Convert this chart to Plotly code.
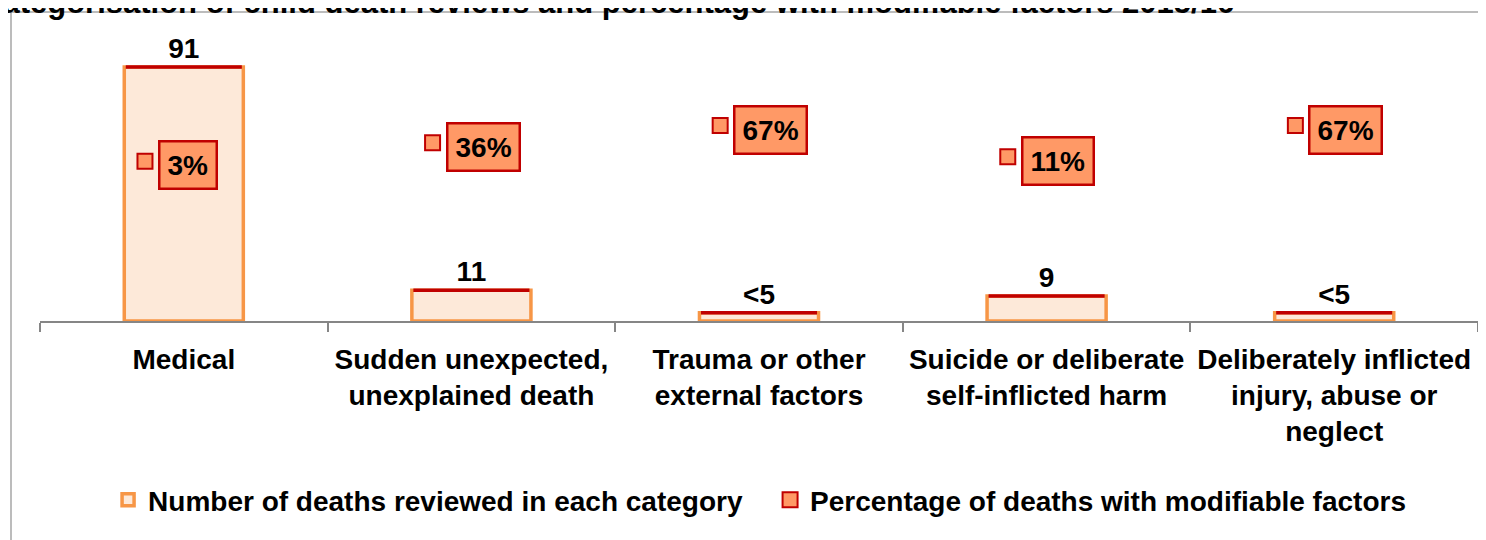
import plotly.graph_objects as go

# ---- data ----
category_labels = [
    "Medical",
    "Sudden unexpected,<br>unexplained death",
    "Trauma or other<br>external factors",
    "Suicide or deliberate<br>self-inflicted harm",
    "Deliberately inflicted<br>injury, abuse or<br>neglect",
]
deaths_reviewed = [91, 11, 3, 9, 3]
deaths_labels = ["91", "11", "<5", "9", "<5"]
pct_modifiable = [3, 36, 67, 11, 67]
pct_labels = ["3%", "36%", "67%", "11%", "67%"]
title_text = "Categorisation of child death reviews and percentage with modifiable factors 2015/16"
series_names = ["Number of deaths reviewed in each category",
                "Percentage of deaths with modifiable factors"]

# ---- layout geometry ----
# the page body adds an 8px offset, so margins are given in figure coords
W, H = 1486, 540
OFF = 8
PLOT_L, PLOT_R, PLOT_T, PLOT_B = 40, 1478, 42, 321   # page pixels
ML = PLOT_L - OFF
MT = PLOT_T - OFF
MR = W - (PLOT_R - OFF)
MB = H - (PLOT_B - OFF)
PW = PLOT_R - PLOT_L
PH = PLOT_B - PLOT_T
def px_x(p):
    return (p - PLOT_L) / PW
def px_y(p):
    return (PLOT_B - p) / PH

FONT = "Liberation Sans, Arial, sans-serif"
BAR_FILL = "#FDE9D9"
BAR_EDGE = "#F79646"
RED = "#C00000"
PCT_FILL = "#FF9966"
AXIS_GREY = "#868686"

bar_frac = 0.414
bar_px = bar_frac * PW / len(category_labels)
marker_offset = -0.135

fig = go.Figure()

fig.add_trace(go.Bar(
    x=category_labels, y=deaths_reviewed,
    name=series_names[0],
    marker=dict(color=BAR_FILL, line=dict(color=BAR_EDGE, width=3.5)),
    text=deaths_labels, textposition="outside",
    textfont=dict(family=FONT, size=28, color="black", weight="bold"),
    constraintext="none", cliponaxis=False,
))

# red line along the top edge of each bar
fig.add_trace(go.Scatter(
    x=category_labels, y=deaths_reviewed, mode="markers",
    marker=dict(symbol="line-ew", size=(bar_px - 3) / 1.4,
                line=dict(color=RED, width=3.5)),
    showlegend=False, hoverinfo="skip", cliponaxis=False,
))

pct_x = [i + marker_offset for i in range(len(pct_modifiable))]
fig.add_trace(go.Scatter(
    x=pct_x, y=pct_modifiable, mode="markers",
    xaxis="x2", yaxis="y2",
    name=series_names[1],
    marker=dict(symbol="square", size=15, color=PCT_FILL,
                line=dict(color=RED, width=2)),
    cliponaxis=False,
))

annotations = []
for xv, yv, lab in zip(pct_x, pct_modifiable, pct_labels):
    annotations.append(dict(
        x=xv, y=yv, xref="x2", yref="y2", text=lab, showarrow=False,
        xanchor="left", yanchor="middle", xshift=13, yshift=-4,
        bgcolor=PCT_FILL, bordercolor=RED, borderwidth=2.5, borderpad=7,
        font=dict(family=FONT, size=28, color="black", weight="bold"),
    ))

annotations.append(dict(
    x=px_x(-22), y=px_y(22), xref="paper", yref="paper",
    text=title_text, showarrow=False, xanchor="left", yanchor="bottom",
    font=dict(family=FONT, size=31, color="black", weight="bold"),
))

fig.update_layout(
    width=W, height=H, autosize=False,
    margin=dict(l=ML, r=MR, t=MT, b=MB, pad=0),
    paper_bgcolor="white", plot_bgcolor="white",
    bargap=1 - bar_frac,
    font=dict(family=FONT, size=28, color="black"),
    xaxis=dict(
        type="category", showline=True, linecolor=AXIS_GREY, linewidth=2,
        ticks="outside", ticklen=9, tickwidth=2, tickcolor=AXIS_GREY,
        tickson="boundaries", showgrid=False, zeroline=False,
        ticklabelstandoff=12, automargin=False, tickangle=0,
        tickfont=dict(family=FONT, size=28, color="black", weight="bold"),
        range=[-0.5, 4.5],
    ),
    xaxis2=dict(overlaying="x", range=[-0.5, 4.5], visible=False),
    yaxis=dict(range=[0, 100], visible=False, showgrid=False),
    yaxis2=dict(overlaying="y", range=[-284.6, 217.4], visible=False),
    showlegend=True,
    legend=dict(
        orientation="h", x=0.5077, xanchor="center", y=px_y(500), yanchor="middle",
        font=dict(family=FONT, size=28, color="black", weight="bold"),
        bgcolor="rgba(0,0,0,0)", traceorder="normal",
        entrywidth=617, entrywidthmode="pixels",
    ),
    annotations=annotations,
    shapes=[dict(
        type="rect", xref="paper", yref="paper", layer="below",
        x0=px_x(11), x1=px_x(W + 40), y0=px_y(H + 40), y1=px_y(12),
        line=dict(color="#A6A6A6", width=1.5), fillcolor="rgba(0,0,0,0)",
    )],
)

fig.write_html("out.html")
